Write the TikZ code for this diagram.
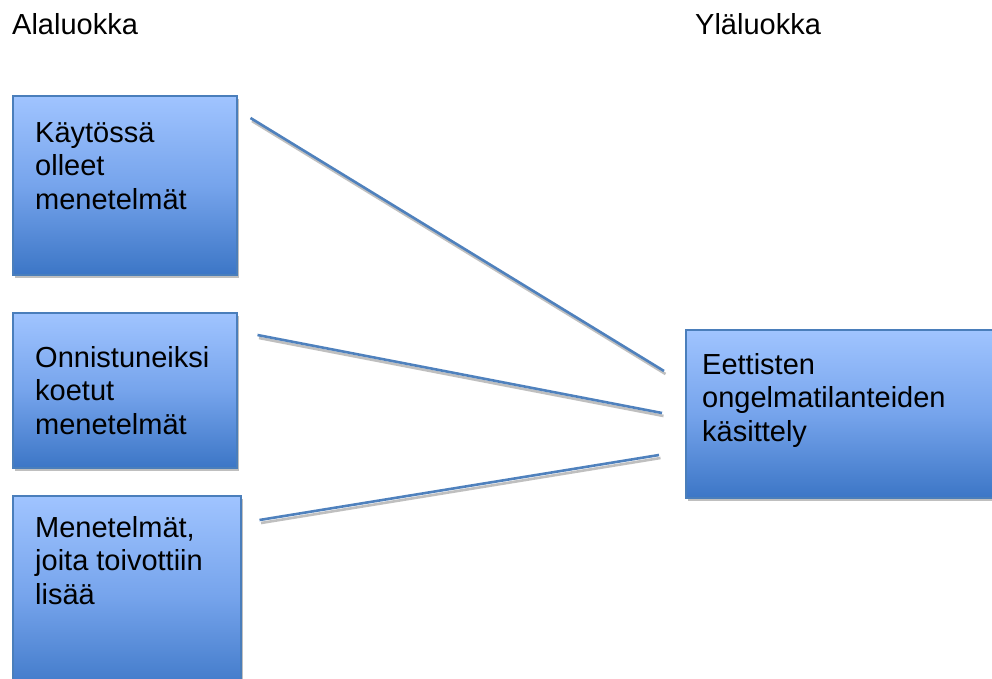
\documentclass[tikz,border=0pt]{standalone}
\usepackage{fontspec}
\setmainfont{Liberation Sans}
\usetikzlibrary{shadows,calc}
\definecolor{boxtop}{RGB}{160,196,255}
\definecolor{boxmid}{RGB}{118,164,236}
\definecolor{boxbot}{RGB}{60,118,198}
\definecolor{boxline}{RGB}{74,126,187}
\definecolor{linkcol}{RGB}{79,129,189}
\tikzset{
  catbox/.style={draw=boxline, line width=1.5pt, anchor=north west, inner sep=0pt,
    top color=boxtop, bottom color=boxbot, middle color=boxmid,
    drop shadow={shadow xshift=2pt, shadow yshift=-3pt, fill=black, opacity=0.25}},
  boxtext/.style={anchor=base west, align=left, inner sep=0pt,
    font=\fontsize{29}{33.5}\selectfont},
  headtext/.style={anchor=base west, inner sep=0pt, font=\fontsize{29}{33.5}\selectfont},
  link/.style={draw=linkcol, line width=2.6pt,
    preaction={draw=black!25, line width=2.6pt, transform canvas={shift={(1.5pt,-3pt)}}}}
}
\begin{document}
\begin{tikzpicture}[x=1pt,y=-1pt]
\useasboundingbox[fill=white] (0,0) rectangle (992,678);
\node[headtext] (hA) at (12,34) {Alaluokka};
\node[headtext] (hY) at (695,34) {Yläluokka};

\node[catbox, minimum width=224pt, minimum height=179pt] (b1) at (12,95) {};
\node[catbox, minimum width=224pt, minimum height=155pt] (b2) at (12,312) {};
\node[catbox, minimum width=228pt, minimum height=200pt] (b3) at (12,495) {};
\node[catbox, minimum width=320pt, minimum height=168pt] (r) at (685,329) {};

% anchor base = baseline of the last line (first baseline + 2 x 33.5)
\node[boxtext] (t1) at (35,209) {Käytössä\\olleet\\menetelmät};
\node[boxtext] (t2) at (35,434) {Onnistuneiksi\\koetut\\menetelmät};
\node[boxtext] (t3) at (35,604) {Menetelmät,\\joita toivottiin\\lisää};
\node[boxtext] (tr) at (702,441) {Eettisten\\ongelmatilanteiden\\käsittely};

\draw[link] ([shift={(13,23)}]b1.north east) -- ([shift={(-21,42)}]r.north west);
\draw[link] ([shift={(20,23)}]b2.north east) -- ([shift={(-23,84)}]r.north west);
\draw[link] ([shift={(18,25)}]b3.north east) -- ([shift={(-26,126)}]r.north west);
\end{tikzpicture}
\end{document}
